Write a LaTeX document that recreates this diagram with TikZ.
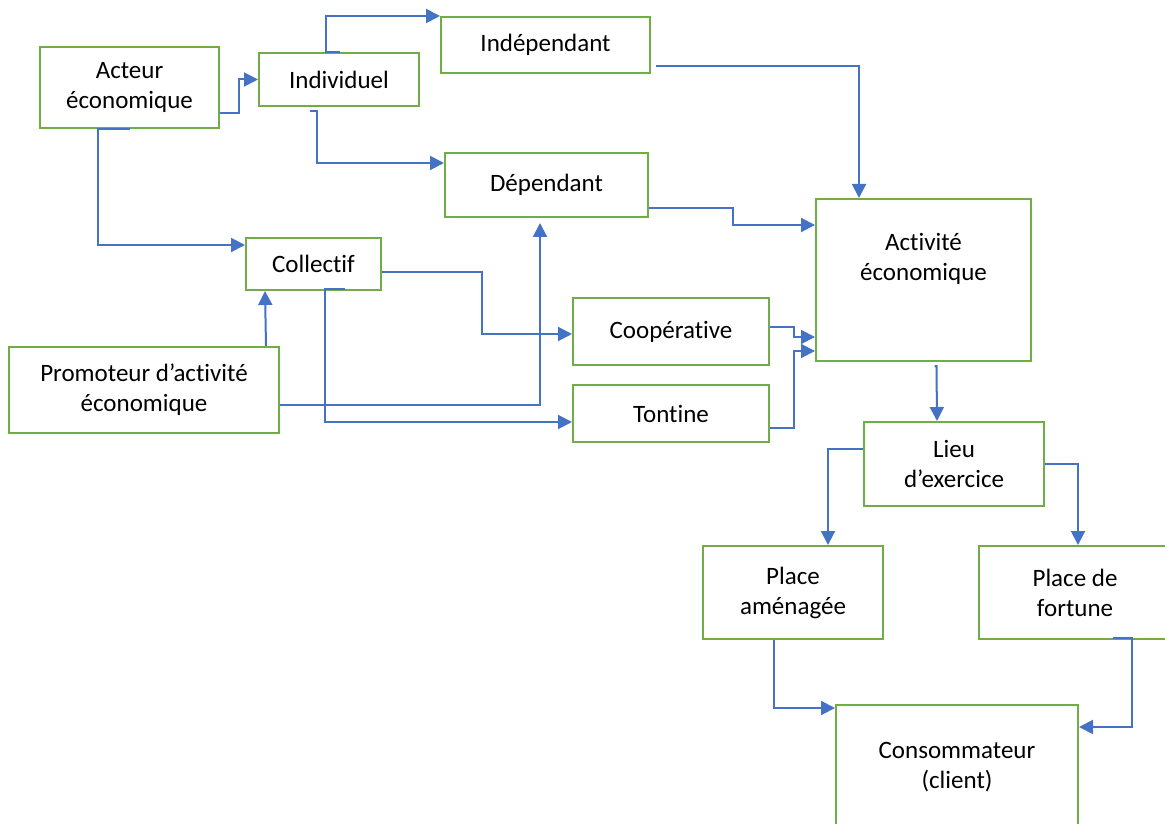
\documentclass[tikz,border=0pt]{standalone}
\usepackage{fontspec}
\setmainfont{Carlito}[Ligatures=NoCommon]
\usetikzlibrary{arrows.meta,calc}
\definecolor{boxgreen}{RGB}{112,173,71}
\definecolor{linkblue}{RGB}{68,114,196}
\begin{document}
\begin{tikzpicture}[x=0.5pt,y=-0.5pt,
    box/.style={draw=boxgreen,line width=1pt,inner sep=0pt,align=center,font=\fontsize{12.5}{15}\selectfont},
    txt/.style={inner sep=0pt,align=center,font=\fontsize{12.5}{15}\selectfont},
    arr/.style={draw=linkblue,line width=1pt,-{Triangle[length=7pt,width=7pt]}}]
\useasboundingbox (0,0) rectangle (1165,823);
\clip (0,0) rectangle (1165,823);

\node[box,minimum width=89.5pt,minimum height=40.5pt] (acteur) at (129.5,87.5) {Acteur\\économique};
\node[box,minimum width=80pt,minimum height=26.5pt] (indiv) at (339,79.5) {Individuel};
\node[box,minimum width=104.5pt,minimum height=28pt] (indep) at (545.5,45) {Indépendant};
\node[box,minimum width=101.5pt,minimum height=32pt] (dep) at (546.5,185) {Dépendant};
\node[box,minimum width=67.5pt,minimum height=26pt] (coll) at (313.5,264) {Collectif};
\node[box,minimum width=135pt,minimum height=43pt] (prom) at (144,390) {Promoteur d’activité\\économique};
\node[box,minimum width=98pt,minimum height=33.5pt] (coop) at (671,331.5) {Coopérative};
\node[box,minimum width=98pt,minimum height=28.5pt] (tont) at (671,413.5) {Tontine};
\node[box,minimum width=107.5pt,minimum height=81pt] (activ) at (923.5,280) {};
\node[txt] (activtxt) at (923.5,259) {Activité\\économique};
\node[box,minimum width=90pt,minimum height=42pt] (lieu) at (954,464) {Lieu\\d’exercice};
\node[box,minimum width=90pt,minimum height=46.5pt] (pam) at (793,592.5) {Place\\aménagée};
\node[box,minimum width=96pt,minimum height=46.5pt] (pfo) at (1075,592.5) {Place de\\fortune};
\node[box,minimum width=121pt,minimum height=62pt] (cons) at (957,767) {Consommateur\\(client)};

\draw[arr] ($(acteur.east)+(0,25.5)$) -- ++(19,0) |- (indiv.west);
\draw[arr] ($(acteur.south)+(0.5,0)$) -- ++(-32,0) |- ($(coll.north west)+(0,8)$);
\draw[arr] ($(indiv.north)+(1,0)$) -- ++(-14,0) |- (indep.north west);
\draw[arr] ($(indiv.south)+(-29,4)$) -- ++(7,0) |- ($(dep.north west)+(0,11)$);

\draw[arr] ($(indep.east)+(5,21)$) -| ($(activ.north west)+(44,0)$);
\draw[arr] ($(dep.east)+(0,23)$) -- ++(84,0) |- ($(activ.north west)+(0,27)$);

\draw[arr] ($(coll.east)+(0,8)$) -- ++(100,0) |- ($(coop.west)+(0,2.5)$);
\draw[arr] ($(coll.south)+(31.5,-2)$) -- ++(-20,0) |- ($(tont.west)+(0,8.5)$);
\draw[arr] ($(prom.north)+(122,0)$) -- ($(coll.south west)+(20,0)$);
\draw[arr] ($(prom.east)+(0,15)$) -| ($(dep.south)+(-6.5,5)$);

\draw[arr] ($(coop.east)+(0,-4.5)$) -- ++(24,0) |- ($(activ.south west)+(0,-25)$);
\draw[arr] ($(tont.east)+(0,14)$) -- ++(24,0) |- ($(activ.south west)+(0,-11)$);

\draw[arr] ($(activ.south)+(11,4)$) -- ++(2,0) -- ($(lieu.north)+(-17,0)$);
\draw[arr] ($(lieu.west)+(0,-15)$) -| ($(pam.north)+(35,0)$);
\draw[arr] (lieu.east) -| ($(pfo.north)+(3,0)$);

\draw[arr] ($(pam.south)+(-19,0)$) |- ($(cons.north west)+(0,4)$);
\draw[arr] ($(pfo.south)+(38,-2)$) -- ++(19,0) |- ($(cons.north east)+(0,23)$);
\end{tikzpicture}
\end{document}
